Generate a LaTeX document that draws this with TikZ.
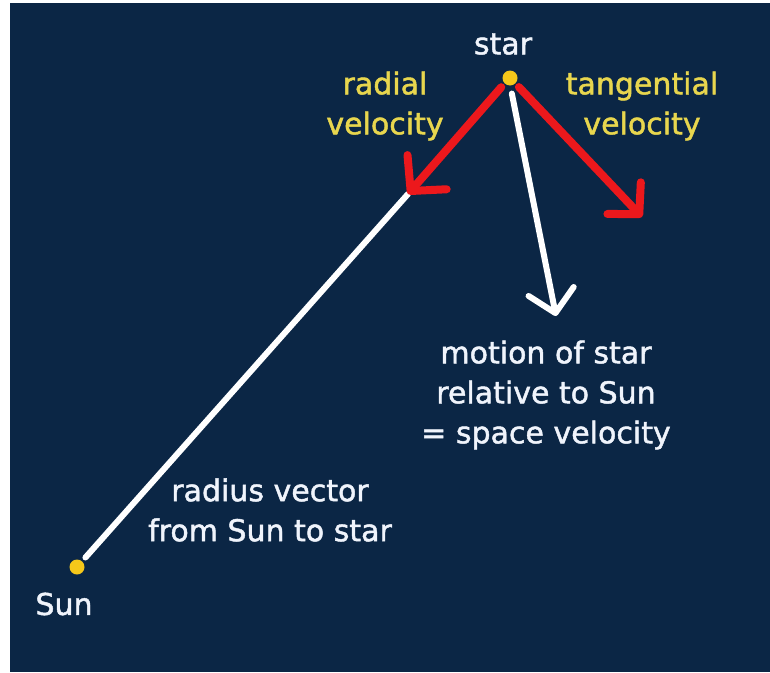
\documentclass[tikz,border=0pt]{standalone}
\usepackage{fontspec}
\setmainfont[FakeBold=1.5,AutoFakeBold=1.5]{DejaVu Sans}
\usetikzlibrary{arrows.meta}
\definecolor{navy}{RGB}{11,38,69}
\definecolor{lbl}{RGB}{232,214,78}
\definecolor{dotc}{RGB}{246,200,26}
\definecolor{vred}{RGB}{236,24,28}
\definecolor{wtxt}{RGB}{240,244,252}
\tikzset{
  txt/.style={text=wtxt, font=\fontsize{30}{40}\selectfont, align=center, inner sep=0pt},
  ylbl/.style={text=lbl, font=\fontsize{30}{40}\selectfont, align=center, inner sep=0pt},
  dotnode/.style={circle, fill=dotc, minimum size=15pt, inner sep=0pt},
  vec/.style={line width=8pt, line cap=round, line join=round},
  barb/.style={-{Straight Barb[length=25pt, width=52pt, line cap=round, line join=round]}},
  sbarb/.style={-{Straight Barb[length=22pt, width=46pt, line cap=round, line join=round]}}
}
\begin{document}
\begin{tikzpicture}[x=1pt, y=-1pt]
\useasboundingbox (0,0) rectangle (770,672);
\fill[white] (0,0) rectangle (770,672);
\fill[navy] (10,3) rectangle (770,672);
% dots
\node[dotnode] (star) at (510,78) {};
\node[dotnode] (sun) at (77,567) {};
% arrow end points
\coordinate (rtip) at (408,194);
\coordinate (ttip) at (642,217);
\coordinate (vtip) at (556,316);
% radius vector
\draw[vec, white, line width=6pt, shorten <=5pt] (sun) -- (rtip);
% space velocity
\draw[vec, white, line width=6pt, sbarb, shorten <=8pt] (star.-88) -- (vtip);
% radial and tangential velocity
\draw[vec, vred, barb, shorten <=5pt] (star.-135) -- (rtip);
\draw[vec, vred, sbarb, shorten <=5pt] (star.-45) -- (ttip);
% labels
\node[txt] (starlbl) at (503,44) {star};
\node[txt] (sunlbl) at (64,604) {Sun};
\node[ylbl] (radlbl) at (385,106) {radial\\velocity};
\node[ylbl] (tanlbl) at (642,106) {tangential\\velocity};
\node[txt] (radiuslbl) at (270,510) {radius vector\\from Sun to star};
\node[txt] (spacelbl) at (546,395) {motion of star\\relative to Sun\\= space velocity};
\end{tikzpicture}
\end{document}
